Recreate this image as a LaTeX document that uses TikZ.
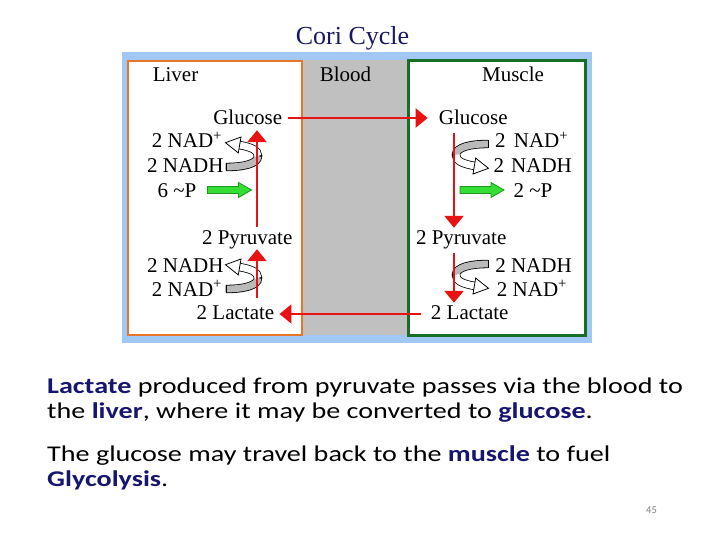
\documentclass[tikz,border=0pt]{standalone}
\usepackage{fontspec}
\setmainfont{Liberation Serif}
\newfontfamily\bodyfont{Carlito}[FakeStretch=1.25]
\newfontfamily\pagefont{Carlito}
\usetikzlibrary{arrows.meta}
\definecolor{navy}{RGB}{22,22,112}
\definecolor{titlenavy}{RGB}{24,24,100}
\definecolor{cred}{RGB}{232,18,18}
\definecolor{cblue}{RGB}{160,200,242}
\definecolor{cblood}{RGB}{192,192,192}
\definecolor{corange}{RGB}{232,118,40}
\definecolor{cgreen}{RGB}{24,110,36}
\definecolor{grnfill}{RGB}{52,222,52}
\definecolor{grndraw}{RGB}{30,150,30}
\definecolor{cgray}{RGB}{185,185,185}
\begin{document}
\begin{tikzpicture}[x=1pt,y=-1pt,
  lab/.style={font=\fontsize{21}{24}\selectfont, inner sep=1pt, text height=14pt, text depth=4pt},
  redarr/.style={draw=cred, line width=2.3pt, -{Triangle[length=12pt,width=19pt]}},
  body/.style={font=\bodyfont\fontsize{22.5}{26}\selectfont, anchor=base west, inner sep=0pt},
  greenarr/.pic={\filldraw[fill=grnfill, draw=grndraw, line width=0.8pt]
     (0,-3.5) -- (31,-3.5) -- (31,-7.5) -- (44,0) -- (31,7.5) -- (31,3.5) -- (0,3.5) -- cycle;},
  recyc/.pic={
    \draw[line width=8.4pt] (0,0) .. controls (17,0) and (32,-3) .. (32,-11) .. controls (32,-17) and (25,-20) .. (13,-22);
    \draw[line width=6.8pt, draw=cgray] (-0.8,0) .. controls (17,0) and (32,-3) .. (32,-11);
    \draw[line width=6.8pt, draw=white] (32,-11) .. controls (32,-17) and (25,-20) .. (13,-22);
    \draw[line width=0.8pt] (0,-4.2) -- (0,4.2);
    \filldraw[fill=white, draw=black, line width=0.8pt, line join=miter] (15,-30) -- (-0.5,-24.3) -- (12.3,-14.1) -- cycle;}
]
\useasboundingbox (0,0) rectangle (720,540);

% title
\node[font=\fontsize{26}{30}\selectfont, text=titlenavy, anchor=base, inner sep=0pt] (title) at (352.5,45) {Cori Cycle};

% frames
\fill[cblue] (122,52) rectangle (592,343);
\fill[cblood] (300,60) rectangle (409,335);
\filldraw[fill=white, draw=corange, line width=2.4pt] (128,61) rectangle (302,335);
\filldraw[fill=white, draw=cgreen, line width=3pt] (408,61) rectangle (585,335);

% compartment labels
\node[lab] (liver) at (175.5,77) {Liver};
\node[lab] (blood) at (345.5,77) {Blood};
\node[lab] (muscle) at (513,77) {Muscle};

% liver
\node[lab] (lGlu) at (247.7,120) {Glucose};
\node[lab] (lNADp) at (187,143) {2 NAD\textsuperscript{+}};
\node[lab] (lNADH) at (185.3,168) {2 NADH};
\node[lab] (l6P) at (177,192) {6 \textasciitilde P};
\node[lab] (lPyr) at (247.2,239) {2 Pyruvate};
\node[lab] (lNADH2) at (185.3,267) {2 NADH};
\node[lab] (lNADp2) at (187,291) {2 NAD\textsuperscript{+}};
\node[lab] (lLac) at (235.5,314) {2 Lactate};

% muscle
\node[lab] (mGlu) at (473.3,120) {Glucose};
\node[lab] (mNADp) at (531.7,143) {2\hspace{3pt} NAD\textsuperscript{+}};
\node[lab] (mNADH) at (532.7,168) {2\hspace{2pt} NADH};
\node[lab] (m2P) at (533,192) {2 \textasciitilde P};
\node[lab] (mPyr) at (461.2,239) {2 Pyruvate};
\node[lab] (mNADH2) at (533.5,267) {2 NADH};
\node[lab] (mNADp2) at (532,291) {2 NAD\textsuperscript{+}};
\node[lab] (mLac) at (469.7,314) {2 Lactate};

\coordinate (lax) at (257,0);
\coordinate (max) at (454,0);

% curved cofactor arrows
\pic at (226,167) {recyc};
\pic at (226,289) {recyc};
\pic[rotate=180] at (488,144) {recyc};
\pic[rotate=180] at (488,264) {recyc};

% green ATP arrows
\pic at (207.5,190) {greenarr};
\pic at (460,190) {greenarr};

% red arrows
\draw[redarr] ([yshift=2pt]lPyr.north -| lax) -- (lGlu.south -| lax);
\draw[redarr] ([yshift=6pt]lLac.north -| lax) -- (lPyr.south -| lax);
\draw[redarr] ([yshift=-3pt]mGlu.south -| max) -- ([yshift=1pt]mPyr.north -| max);
\draw[redarr] ([yshift=-4pt]mPyr.south -| max) -- ([yshift=1pt]mLac.north -| max);
\draw[redarr] ([shift={(5pt,2pt)}]lGlu.east) -- ([shift={(-10pt,2pt)}]mGlu.west);
\draw[redarr] ([xshift=-9pt]mLac.west) -- ([xshift=4pt]lLac.east);

% body text
\node[body] (t1) at (47,393) {\textcolor{navy}{\bfseries Lactate} produced from pyruvate passes via the blood to};
\node[body] (t2) at (47,418) {the \textcolor{navy}{\bfseries liver}, where it may be converted to \textcolor{navy}{\bfseries glucose}.};
\node[body] (t3) at (47,461) {The glucose may travel back to the \textcolor{navy}{\bfseries muscle} to fuel};
\node[body] (t4) at (47,486) {\textcolor{navy}{\bfseries Glycolysis}.};
\node[font=\pagefont\fontsize{10.5}{12}\selectfont, text=gray, anchor=base, inner sep=0pt] (pg) at (651.5,513) {45};
\end{tikzpicture}
\end{document}
